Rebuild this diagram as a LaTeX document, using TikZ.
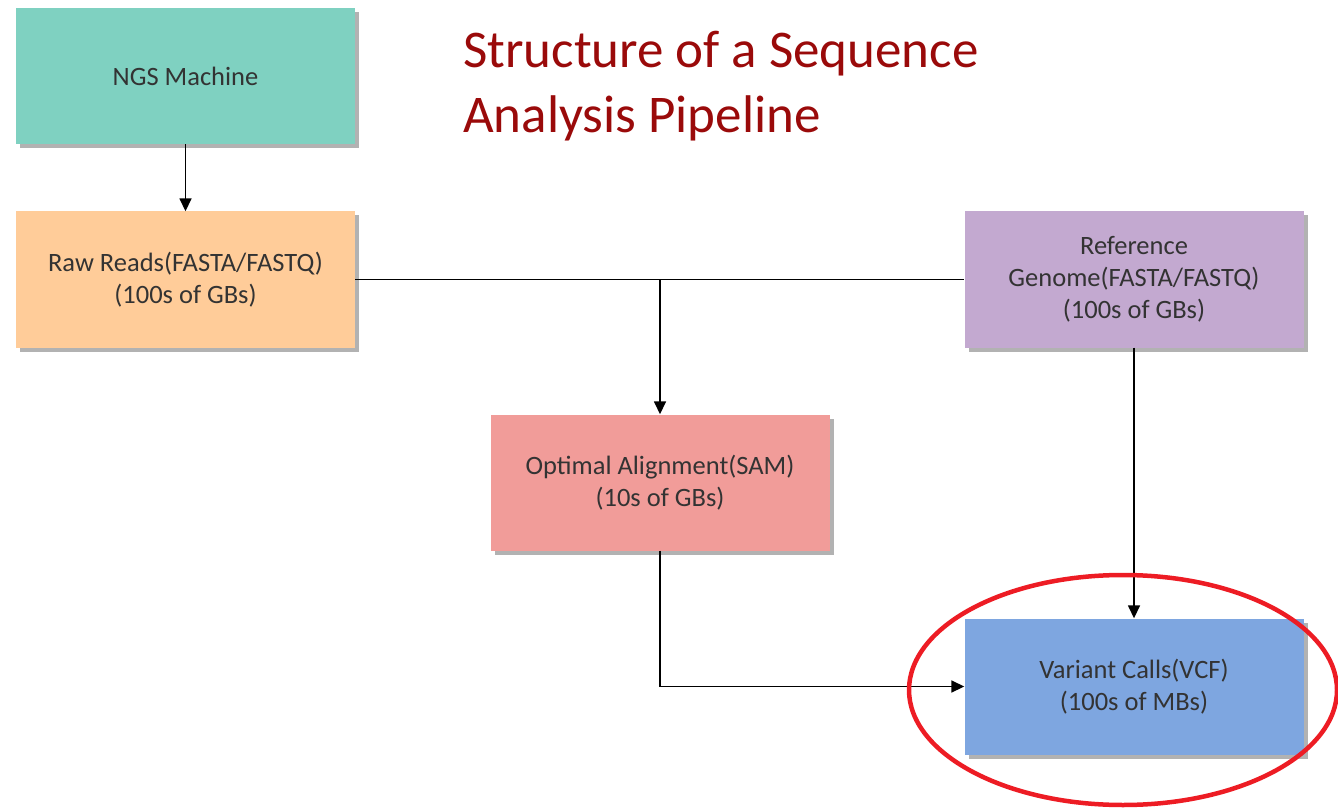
\documentclass[tikz,border=0pt]{standalone}
\usepackage{fontspec}
\setmainfont{Carlito}
\usetikzlibrary{arrows.meta,shadows}
\definecolor{ngsc}{HTML}{7FD1C1}
\definecolor{rawc}{HTML}{FFCC99}
\definecolor{refc}{HTML}{C3A9D0}
\definecolor{optc}{HTML}{F19C99}
\definecolor{varc}{HTML}{7EA6E0}
\definecolor{titlec}{HTML}{9A0A0A}
\definecolor{txtc}{HTML}{333333}
\definecolor{ringc}{HTML}{ED1C24}
\tikzset{
  box/.style={rectangle, inner sep=0pt, minimum width=339pt, minimum height=136pt,
    align=center, text=txtc, font=\fontsize{26.5}{32}\selectfont,
    drop shadow={shadow xshift=4pt, shadow yshift=-4pt, fill=black, opacity=0.3}},
  conn/.style={line width=1.6pt, draw=black},
  arr/.style={conn, -{Triangle[length=13pt,width=12pt]}},
}
\begin{document}
\begin{tikzpicture}[x=1pt,y=-1pt]
\useasboundingbox (0,0) rectangle (1338,810);
\node[box, fill=ngsc] (ngs) at (185.5,76) {NGS Machine};
\node[box, fill=rawc] (raw) at (185.5,279.5) {Raw Reads(FASTA/FASTQ)\\(100s of GBs)};
\node[box, fill=refc] (ref) at (1134,279.5) {Reference\\Genome(FASTA/FASTQ)\\(100s of GBs)};
\node[box, fill=optc] (opt) at (660,482.5) {Optimal Alignment(SAM)\\(10s of GBs)};
\node[box, fill=varc] (var) at (1134,686.5) {Variant Calls(VCF)\\(100s of MBs)};
\node[anchor=base west, inner sep=0pt, align=left, text=titlec,
  font=\fontsize{53}{65}\selectfont] (title) at (463,133)
  {Structure of a Sequence\\Analysis Pipeline};
\coordinate (j1) at (opt.north |- raw.east);
\coordinate (j2) at (opt.south |- var.west);
\draw[arr] (ngs.south) -- (raw.north);
\draw[conn] (raw.east) -- (ref.west);
\draw[arr] (j1) -- (opt.north);
\draw[arr] (ref.south) -- (var.north);
\draw[arr] (opt.south) -- (j2) -- (var.west);
\draw[ringc, line width=4.5pt] (1123,690) ellipse [x radius=214, y radius=115];
\end{tikzpicture}
\end{document}
